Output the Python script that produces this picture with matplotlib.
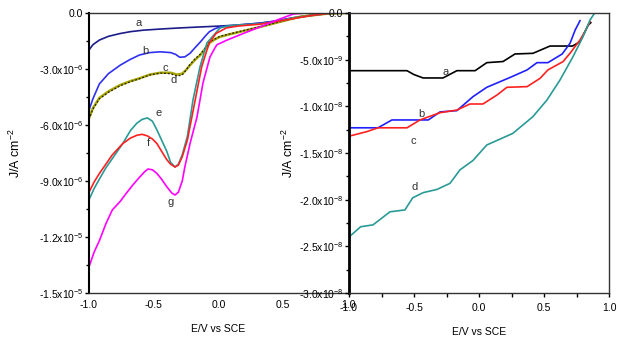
import numpy as np
import matplotlib.pyplot as plt
from matplotlib.ticker import MultipleLocator, FixedLocator

plt.rcParams['font.family'] = ['Liberation Sans', 'DejaVu Sans']
plt.rcParams['mathtext.default'] = 'regular'

# left panel, current density in 1e-6 A/cm^2
xa = [-1.0, -0.97, -0.92, -0.85, -0.76, -0.68, -0.58, -0.45, -0.3, -0.15, 0.01, 0.15, 0.32, 0.45, 0.58, 0.71, 0.85, 1.0]
ya = [-1.98, -1.7, -1.45, -1.25, -1.1, -1.0, -0.92, -0.86, -0.8, -0.75, -0.7, -0.64, -0.54, -0.42, -0.25, -0.12,
      -0.02, 0.0]

xb = [-1.0, -0.97, -0.92, -0.85, -0.76, -0.68, -0.61, -0.53, -0.45, -0.37, -0.33, -0.30, -0.26, -0.22, -0.18, -0.14,
      -0.10, -0.07, -0.03, 0.01, 0.15, 0.32, 0.45, 0.58, 0.71, 0.85, 1.0]
yb = [-5.2, -4.6, -3.8, -3.25, -2.8, -2.48, -2.25, -2.12, -2.08, -2.12, -2.22, -2.37, -2.35, -2.16, -1.85, -1.55,
      -1.22, -1.0, -0.85, -0.75, -0.66, -0.55, -0.43, -0.26, -0.13, -0.02, 0.0]

xc = [-1.0, -0.97, -0.92, -0.85, -0.76, -0.68, -0.61, -0.53, -0.45, -0.37, -0.32, -0.28, -0.25, -0.22, -0.18, -0.14,
      -0.10, -0.07, -0.03, 0.01, 0.08, 0.17, 0.32, 0.47, 0.63, 0.86, 1.0]
yc = [-5.64, -5.1, -4.55, -4.2, -3.86, -3.65, -3.5, -3.3, -3.2, -3.2, -3.3, -3.25, -3.05, -2.8, -2.5, -2.25, -1.9,
      -1.6, -1.42, -1.28, -1.15, -1.0, -0.75, -0.48, -0.2, -0.02, 0.0]
yd = [-5.7, -5.15, -4.6, -4.25, -3.9, -3.68, -3.52, -3.32, -3.22, -3.25, -3.38, -3.32, -3.05, -2.75, -2.45, -2.2,
      -1.85, -1.55, -1.4, -1.25, -1.13, -0.98, -0.74, -0.47, -0.2, -0.02, 0.0]

xe = [-1.0, -0.96, -0.92, -0.87, -0.82, -0.74, -0.68, -0.63, -0.59, -0.55, -0.51, -0.475, -0.44, -0.40, -0.37, -0.336,
      -0.31, -0.28, -0.24, -0.197, -0.143, -0.11, -0.089, -0.05, 0.012, 0.066, 0.15, 0.32, 0.45, 0.58, 0.71, 0.85, 1.0]
ye = [-10.0, -9.4, -8.9, -8.3, -7.8, -7.0, -6.3, -5.9, -5.7, -5.62, -5.8, -6.27, -6.8, -7.4, -8.0, -8.25, -8.1, -7.6,
      -6.6, -4.66, -2.89, -2.1, -1.6, -1.29, -0.8, -0.7, -0.64, -0.58, -0.45, -0.28, -0.14, -0.02, 0.0]

xf = [-1.0, -0.96, -0.92, -0.87, -0.82, -0.74, -0.68, -0.63, -0.59, -0.55, -0.51, -0.475, -0.44, -0.40, -0.37, -0.336,
      -0.31, -0.28, -0.24, -0.18, -0.13, -0.09, -0.07, -0.02, 0.06, 0.15, 0.32, 0.45, 0.58, 0.71, 0.85, 1.0]
yf = [-9.6, -9.05, -8.6, -8.1, -7.6, -7.0, -6.7, -6.55, -6.5, -6.58, -6.75, -7.0, -7.4, -7.85, -8.1, -8.25, -8.15,
      -7.7, -6.8, -4.66, -2.89, -2.0, -1.6, -1.1, -0.8, -0.7, -0.6, -0.45, -0.3, -0.14, -0.02, 0.0]

xg = [-1.0, -0.96, -0.92, -0.87, -0.82, -0.76, -0.71, -0.66, -0.61, -0.57, -0.545, -0.51, -0.475, -0.44, -0.40, -0.36,
      -0.336, -0.31, -0.28, -0.26, -0.22, -0.166, -0.12, -0.066, -0.03, -0.012, 0.066, 0.19, 0.32, 0.45, 0.58, 0.68, 1.0]
yg = [-13.6, -12.8, -12.2, -11.3, -10.55, -10.1, -9.64, -9.2, -8.8, -8.5, -8.36, -8.4, -8.6, -8.9, -9.3, -9.65, -9.75,
      -9.6, -9.0, -8.25, -7.0, -5.57, -3.75, -2.36, -1.9, -1.7, -1.45, -1.1, -0.75, -0.38, -0.05, 0.0, 0.0]

# right panel, current density in 1e-9 A/cm^2
xra = [-1.0, -0.554, -0.50, -0.43, -0.277, -0.17, -0.03, 0.06, 0.185, 0.277, 0.415, 0.546, 0.72, 0.777, 0.84, 0.86]
yra = [-6.18, -6.18, -6.6, -6.96, -6.96, -6.18, -6.18, -5.32, -5.2, -4.39, -4.32, -3.54, -3.54, -3.07, -1.29, -1.04]

xrb = [-1.0, -0.777, -0.67, -0.39, -0.3, -0.17, -0.046, 0.06, 0.24, 0.37, 0.446, 0.53, 0.64, 0.70, 0.74, 0.777]
yrb = [-12.3, -12.3, -11.46, -11.46, -10.6, -10.46, -8.96, -7.96, -6.9, -6.1, -5.32, -5.32, -4.39, -3.25, -1.82, -0.82]

xrc = [-1.0, -0.86, -0.777, -0.554, -0.454, -0.3, -0.17, -0.07, 0.03, 0.138, 0.215, 0.37, 0.47, 0.53, 0.646, 0.70,
       0.777, 0.815, 0.854]
yrc = [-13.2, -12.7, -12.3, -12.3, -11.46, -10.68, -10.4, -9.75, -9.75, -8.79, -7.96, -7.89, -7.0, -6.1, -5.21, -4.32,
       -2.89, -2.0, -0.93]

xrd = [-1.0, -0.91, -0.815, -0.685, -0.57, -0.51, -0.43, -0.323, -0.223, -0.146, -0.046, 0.06, 0.26, 0.415, 0.523,
       0.623, 0.723, 0.8, 0.854, 0.89]
yrd = [-24.0, -22.9, -22.7, -21.3, -21.1, -19.8, -19.25, -18.9, -18.25, -16.8, -15.8, -14.14, -12.9, -11.1, -9.32,
       -7.18, -4.68, -2.54, -0.75, 0.0]

left_ticks = [0.0, -3e-6, -6e-6, -9e-6, -12e-6, -15e-6]
left_labels = ['0.0', r'-3.0x10$^{-6}$', r'-6.0x10$^{-6}$', r'-9.0x10$^{-6}$', r'-1.2x10$^{-5}$', r'-1.5x10$^{-5}$']
right_ticks = [0.0, -5e-9, -10e-9, -15e-9, -20e-9, -25e-9, -30e-9]
right_labels = ['0.0', r'-5.0x10$^{-9}$', r'-1.0x10$^{-8}$', r'-1.5x10$^{-8}$', r'-2.0x10$^{-8}$',
                r'-2.5x10$^{-8}$', r'-3.0x10$^{-8}$']
x_ticks = [-1.0, -0.5, 0.0, 0.5, 1.0]
x_labels = ['-1.0', '-0.5', '0.0', '0.5', '1.0']

u = 1e-6
n = 1e-9

fig = plt.figure(figsize=(6.18, 3.39), dpi=100)
ax1 = fig.add_axes([89 / 618, 1 - 293 / 339, 259 / 618, 280 / 339])
ax2 = fig.add_axes([349 / 618, 1 - 293 / 339, 260 / 618, 280 / 339])

lw = 1.2
ax1.plot(xa, np.array(ya) * u, color='#1c1c8a', lw=lw)
ax1.plot(xb, np.array(yb) * u, color='#3030f0', lw=lw)
ax1.plot(xc, np.array(yc) * u, color='#a8a600', lw=1.8)
ax1.plot(xc, np.array(yd) * u, color='#202000', lw=0.9, ls=(0, (1.5, 1.5)))
ax1.plot(xe, np.array(ye) * u, color='#2a9a96', lw=lw)
ax1.plot(xf, np.array(yf) * u, color='#ff2020', lw=lw)
ax1.plot(xg, np.array(yg) * u, color='#ff00ff', lw=lw)

tk = dict(fontsize=8, color='#333333')
ax1.text(-0.64, -0.72e-6, 'a', **tk)
ax1.text(-0.59, -2.2e-6, 'b', **tk)
ax1.text(-0.43, -3.1e-6, 'c', **tk)
ax1.text(-0.37, -3.75e-6, 'd', **tk)
ax1.text(-0.49, -5.5e-6, 'e', **tk)
ax1.text(-0.55, -7.1e-6, 'f', **tk)
ax1.text(-0.39, -10.3e-6, 'g', **tk)

ax1.set_xlim(-1.0, 1.0)
ax1.set_ylim(-15e-6, 0.0)
ax1.set_yticks(left_ticks)
ax1.set_yticklabels(left_labels)
ax1.yaxis.set_minor_locator(FixedLocator([-1.5e-6, -4.5e-6, -7.5e-6, -10.5e-6, -13.5e-6]))
ax1.set_xticks(x_ticks)
ax1.set_xticklabels(x_labels)
ax1.tick_params(axis='x', length=0, labelsize=7.5, pad=5)
ax1.tick_params(axis='y', which='major', length=3, width=1, labelsize=7.5, pad=1)
ax1.tick_params(axis='y', which='minor', length=2, width=1)
ax1.spines['right'].set_visible(False)
ax1.spines['left'].set_linewidth(1.5)
for s in ['top', 'bottom']:
    ax1.spines[s].set_linewidth(1.0)
    ax1.spines[s].set_color('#333333')
ax1.set_ylabel('J/A cm$^{-2}$', fontsize=9, labelpad=-1)
ax1.yaxis.set_label_coords(-0.255, 0.5)
ax1.set_xlabel('E/V vs SCE', fontsize=7.5, labelpad=10)

ax2.plot(xra, np.array(yra) * n, color='black', lw=lw)
ax2.plot(xrb, np.array(yrb) * n, color='#2020ff', lw=lw)
ax2.plot(xrc, np.array(yrc) * n, color='#ff2020', lw=lw)
ax2.plot(xrd, np.array(yrd) * n, color='#2a9a96', lw=lw)
ax2.text(-0.28, -6.6e-9, 'a', **tk)
ax2.text(-0.47, -11.1e-9, 'b', **tk)
ax2.text(-0.53, -14.0e-9, 'c', **tk)
ax2.text(-0.52, -19.0e-9, 'd', **tk)

ax2.set_xlim(-1.0, 1.0)
ax2.set_ylim(-30e-9, 0.0)
ax2.set_yticks(right_ticks)
ax2.set_yticklabels(right_labels)
ax2.yaxis.set_minor_locator(FixedLocator([-2.5e-9, -7.5e-9, -12.5e-9, -17.5e-9, -22.5e-9, -27.5e-9]))
ax2.set_xticks(x_ticks)
ax2.set_xticklabels(x_labels)
ax2.xaxis.set_minor_locator(MultipleLocator(0.25))
ax2.tick_params(axis='x', which='major', length=3, width=1, labelsize=7.5, pad=4)
ax2.tick_params(axis='x', which='minor', length=3, width=1)
ax2.tick_params(axis='y', which='major', length=3, width=1, labelsize=7.5, pad=1)
ax2.tick_params(axis='y', which='minor', length=2, width=1)
ax2.spines['left'].set_linewidth(2.0)
for s in ['top', 'bottom', 'right']:
    ax2.spines[s].set_linewidth(1.0)
    ax2.spines[s].set_color('#333333')
ax2.set_ylabel('J/A cm$^{-2}$', fontsize=9, labelpad=2)
ax2.set_xlabel('E/V vs SCE', fontsize=7.5, labelpad=10)

fig.savefig('out.png', dpi=100)
